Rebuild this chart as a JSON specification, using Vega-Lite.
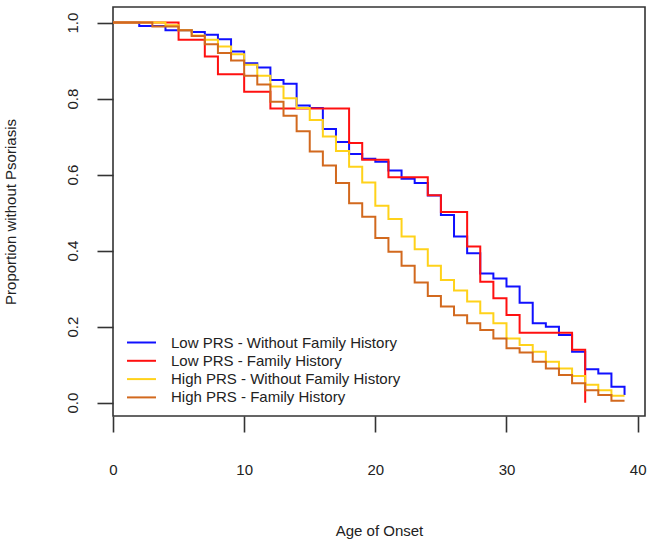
{
  "$schema": "https://vega.github.io/schema/vega-lite/v6.json",
  "width": 532,
  "height": 409,
  "autosize": "none",
  "padding": {"left": 113, "top": 7, "right": 8, "bottom": 127},
  "background": "white",
  "config": {
    "view": {"stroke": "#333333", "strokeWidth": 1.6},
    "font": "Liberation Sans",
    "axis": {
      "grid": false, "domain": false, "tickColor": "#333333", "tickWidth": 1.6, "tickSize": 16,
      "labelFont": "Liberation Sans", "labelFontSize": 15, "labelColor": "#222222",
      "titleFont": "Liberation Sans", "titleFontSize": 15, "titleFontWeight": "normal", "titleColor": "#222222"
    }
  },
  "datasets": {
    "km": [
      {"group": "Low PRS - Without Family History", "age": 0, "surv": 1},
      {"group": "Low PRS - Without Family History", "age": 2, "surv": 0.991},
      {"group": "Low PRS - Without Family History", "age": 4, "surv": 0.98},
      {"group": "Low PRS - Without Family History", "age": 6, "surv": 0.975},
      {"group": "Low PRS - Without Family History", "age": 7, "surv": 0.968},
      {"group": "Low PRS - Without Family History", "age": 8, "surv": 0.956},
      {"group": "Low PRS - Without Family History", "age": 9, "surv": 0.924},
      {"group": "Low PRS - Without Family History", "age": 10, "surv": 0.893},
      {"group": "Low PRS - Without Family History", "age": 11, "surv": 0.882},
      {"group": "Low PRS - Without Family History", "age": 12, "surv": 0.849},
      {"group": "Low PRS - Without Family History", "age": 13, "surv": 0.839},
      {"group": "Low PRS - Without Family History", "age": 14, "surv": 0.782},
      {"group": "Low PRS - Without Family History", "age": 15, "surv": 0.775},
      {"group": "Low PRS - Without Family History", "age": 16, "surv": 0.72},
      {"group": "Low PRS - Without Family History", "age": 17, "surv": 0.686},
      {"group": "Low PRS - Without Family History", "age": 18, "surv": 0.654},
      {"group": "Low PRS - Without Family History", "age": 19, "surv": 0.642},
      {"group": "Low PRS - Without Family History", "age": 20, "surv": 0.634},
      {"group": "Low PRS - Without Family History", "age": 21, "surv": 0.611},
      {"group": "Low PRS - Without Family History", "age": 22, "surv": 0.589},
      {"group": "Low PRS - Without Family History", "age": 23, "surv": 0.578},
      {"group": "Low PRS - Without Family History", "age": 24, "surv": 0.545},
      {"group": "Low PRS - Without Family History", "age": 25, "surv": 0.494},
      {"group": "Low PRS - Without Family History", "age": 26, "surv": 0.437},
      {"group": "Low PRS - Without Family History", "age": 27, "surv": 0.393},
      {"group": "Low PRS - Without Family History", "age": 28, "surv": 0.34},
      {"group": "Low PRS - Without Family History", "age": 29, "surv": 0.327},
      {"group": "Low PRS - Without Family History", "age": 30, "surv": 0.306},
      {"group": "Low PRS - Without Family History", "age": 31, "surv": 0.263},
      {"group": "Low PRS - Without Family History", "age": 32, "surv": 0.209},
      {"group": "Low PRS - Without Family History", "age": 33, "surv": 0.2},
      {"group": "Low PRS - Without Family History", "age": 34, "surv": 0.178},
      {"group": "Low PRS - Without Family History", "age": 35, "surv": 0.134},
      {"group": "Low PRS - Without Family History", "age": 36, "surv": 0.088},
      {"group": "Low PRS - Without Family History", "age": 37, "surv": 0.077},
      {"group": "Low PRS - Without Family History", "age": 38, "surv": 0.042},
      {"group": "Low PRS - Without Family History", "age": 39, "surv": 0.02},
      {"group": "Low PRS - Family History", "age": 0, "surv": 1},
      {"group": "Low PRS - Family History", "age": 5, "surv": 0.955},
      {"group": "Low PRS - Family History", "age": 7, "surv": 0.911},
      {"group": "Low PRS - Family History", "age": 8, "surv": 0.864},
      {"group": "Low PRS - Family History", "age": 10, "surv": 0.818},
      {"group": "Low PRS - Family History", "age": 12, "surv": 0.774},
      {"group": "Low PRS - Family History", "age": 18, "surv": 0.683},
      {"group": "Low PRS - Family History", "age": 19, "surv": 0.639},
      {"group": "Low PRS - Family History", "age": 21, "surv": 0.593},
      {"group": "Low PRS - Family History", "age": 24, "surv": 0.546},
      {"group": "Low PRS - Family History", "age": 25, "surv": 0.502},
      {"group": "Low PRS - Family History", "age": 27, "surv": 0.411},
      {"group": "Low PRS - Family History", "age": 28, "surv": 0.318},
      {"group": "Low PRS - Family History", "age": 29, "surv": 0.275},
      {"group": "Low PRS - Family History", "age": 30, "surv": 0.231},
      {"group": "Low PRS - Family History", "age": 31, "surv": 0.184},
      {"group": "Low PRS - Family History", "age": 35, "surv": 0.139},
      {"group": "Low PRS - Family History", "age": 36, "surv": 0},
      {"group": "High PRS - Without Family History", "age": 0, "surv": 1},
      {"group": "High PRS - Without Family History", "age": 4, "surv": 0.993},
      {"group": "High PRS - Without Family History", "age": 5, "surv": 0.98},
      {"group": "High PRS - Without Family History", "age": 6, "surv": 0.966},
      {"group": "High PRS - Without Family History", "age": 7, "surv": 0.955},
      {"group": "High PRS - Without Family History", "age": 8, "surv": 0.937},
      {"group": "High PRS - Without Family History", "age": 9, "surv": 0.917},
      {"group": "High PRS - Without Family History", "age": 10, "surv": 0.889},
      {"group": "High PRS - Without Family History", "age": 11, "surv": 0.86},
      {"group": "High PRS - Without Family History", "age": 12, "surv": 0.832},
      {"group": "High PRS - Without Family History", "age": 13, "surv": 0.801},
      {"group": "High PRS - Without Family History", "age": 14, "surv": 0.775},
      {"group": "High PRS - Without Family History", "age": 15, "surv": 0.744},
      {"group": "High PRS - Without Family History", "age": 16, "surv": 0.7},
      {"group": "High PRS - Without Family History", "age": 17, "surv": 0.662},
      {"group": "High PRS - Without Family History", "age": 18, "surv": 0.621},
      {"group": "High PRS - Without Family History", "age": 19, "surv": 0.579},
      {"group": "High PRS - Without Family History", "age": 20, "surv": 0.518},
      {"group": "High PRS - Without Family History", "age": 21, "surv": 0.483},
      {"group": "High PRS - Without Family History", "age": 22, "surv": 0.437},
      {"group": "High PRS - Without Family History", "age": 23, "surv": 0.404},
      {"group": "High PRS - Without Family History", "age": 24, "surv": 0.36},
      {"group": "High PRS - Without Family History", "age": 25, "surv": 0.323},
      {"group": "High PRS - Without Family History", "age": 26, "surv": 0.295},
      {"group": "High PRS - Without Family History", "age": 27, "surv": 0.266},
      {"group": "High PRS - Without Family History", "age": 28, "surv": 0.235},
      {"group": "High PRS - Without Family History", "age": 29, "surv": 0.209},
      {"group": "High PRS - Without Family History", "age": 30, "surv": 0.169},
      {"group": "High PRS - Without Family History", "age": 31, "surv": 0.152},
      {"group": "High PRS - Without Family History", "age": 32, "surv": 0.134},
      {"group": "High PRS - Without Family History", "age": 33, "surv": 0.108},
      {"group": "High PRS - Without Family History", "age": 34, "surv": 0.09},
      {"group": "High PRS - Without Family History", "age": 35, "surv": 0.07},
      {"group": "High PRS - Without Family History", "age": 36, "surv": 0.047},
      {"group": "High PRS - Without Family History", "age": 37, "surv": 0.033},
      {"group": "High PRS - Without Family History", "age": 38, "surv": 0.018},
      {"group": "High PRS - Without Family History", "age": 39, "surv": 0.018},
      {"group": "High PRS - Family History", "age": 0, "surv": 1},
      {"group": "High PRS - Family History", "age": 3, "surv": 0.99},
      {"group": "High PRS - Family History", "age": 5, "surv": 0.98},
      {"group": "High PRS - Family History", "age": 6, "surv": 0.965},
      {"group": "High PRS - Family History", "age": 7, "surv": 0.943},
      {"group": "High PRS - Family History", "age": 8, "surv": 0.92},
      {"group": "High PRS - Family History", "age": 9, "surv": 0.9},
      {"group": "High PRS - Family History", "age": 10, "surv": 0.86},
      {"group": "High PRS - Family History", "age": 11, "surv": 0.837},
      {"group": "High PRS - Family History", "age": 12, "surv": 0.792},
      {"group": "High PRS - Family History", "age": 13, "surv": 0.755},
      {"group": "High PRS - Family History", "age": 14, "surv": 0.714},
      {"group": "High PRS - Family History", "age": 15, "surv": 0.661},
      {"group": "High PRS - Family History", "age": 16, "surv": 0.624},
      {"group": "High PRS - Family History", "age": 17, "surv": 0.578},
      {"group": "High PRS - Family History", "age": 18, "surv": 0.525},
      {"group": "High PRS - Family History", "age": 19, "surv": 0.489},
      {"group": "High PRS - Family History", "age": 20, "surv": 0.433},
      {"group": "High PRS - Family History", "age": 21, "surv": 0.397},
      {"group": "High PRS - Family History", "age": 22, "surv": 0.36},
      {"group": "High PRS - Family History", "age": 23, "surv": 0.316},
      {"group": "High PRS - Family History", "age": 24, "surv": 0.281},
      {"group": "High PRS - Family History", "age": 25, "surv": 0.253},
      {"group": "High PRS - Family History", "age": 26, "surv": 0.23},
      {"group": "High PRS - Family History", "age": 27, "surv": 0.209},
      {"group": "High PRS - Family History", "age": 28, "surv": 0.191},
      {"group": "High PRS - Family History", "age": 29, "surv": 0.169},
      {"group": "High PRS - Family History", "age": 30, "surv": 0.143},
      {"group": "High PRS - Family History", "age": 31, "surv": 0.132},
      {"group": "High PRS - Family History", "age": 32, "surv": 0.108},
      {"group": "High PRS - Family History", "age": 33, "surv": 0.09},
      {"group": "High PRS - Family History", "age": 34, "surv": 0.073},
      {"group": "High PRS - Family History", "age": 35, "surv": 0.051},
      {"group": "High PRS - Family History", "age": 36, "surv": 0.033},
      {"group": "High PRS - Family History", "age": 37, "surv": 0.02},
      {"group": "High PRS - Family History", "age": 38, "surv": 0.005},
      {"group": "High PRS - Family History", "age": 39, "surv": 0.005}
    ]
  },
  "data": {"name": "km"},
  "mark": {"type": "line", "interpolate": "step-after", "strokeWidth": 2},
  "encoding": {
    "x": {
      "field": "age", "type": "quantitative",
      "scale": {"domain": [0, 40.56], "nice": false, "zero": false},
      "axis": {"values": [0, 10, 20, 30, 40], "title": "Age of Onset", "labelBaseline": "alphabetic", "labelPadding": 42, "labelFlush": false, "titleBaseline": "alphabetic", "titleY": 119.5}
    },
    "y": {
      "field": "surv", "type": "quantitative",
      "scale": {"domain": [-0.035, 1.041], "nice": false, "zero": false},
      "axis": {"values": [0, 0.2, 0.4, 0.6, 0.8, 1], "format": ".1f", "title": "Proportion without Psoriasis", "labelAngle": -90, "labelAlign": "center", "labelBaseline": "alphabetic", "labelPadding": 19.5, "titleAngle": -90, "titleBaseline": "alphabetic", "titleX": -98}
    },
    "color": {
      "field": "group", "type": "nominal",
      "scale": {
        "domain": ["Low PRS - Without Family History", "Low PRS - Family History", "High PRS - Without Family History", "High PRS - Family History"],
        "range": ["#1010ff", "#ff1010", "#ffd21a", "#d2691e"]
      },
      "legend": {
        "orient": "none", "legendX": 20, "legendY": 327, "title": null,
        "symbolType": "M-1.93,0H1.93", "symbolSize": 225, "symbolStrokeWidth": 2,
        "labelFont": "Liberation Sans", "labelFontSize": 15, "labelColor": "#222222",
        "labelOffset": 21, "rowPadding": 1.3, "padding": 0, "labelLimit": 400
      }
    }
  }
}
